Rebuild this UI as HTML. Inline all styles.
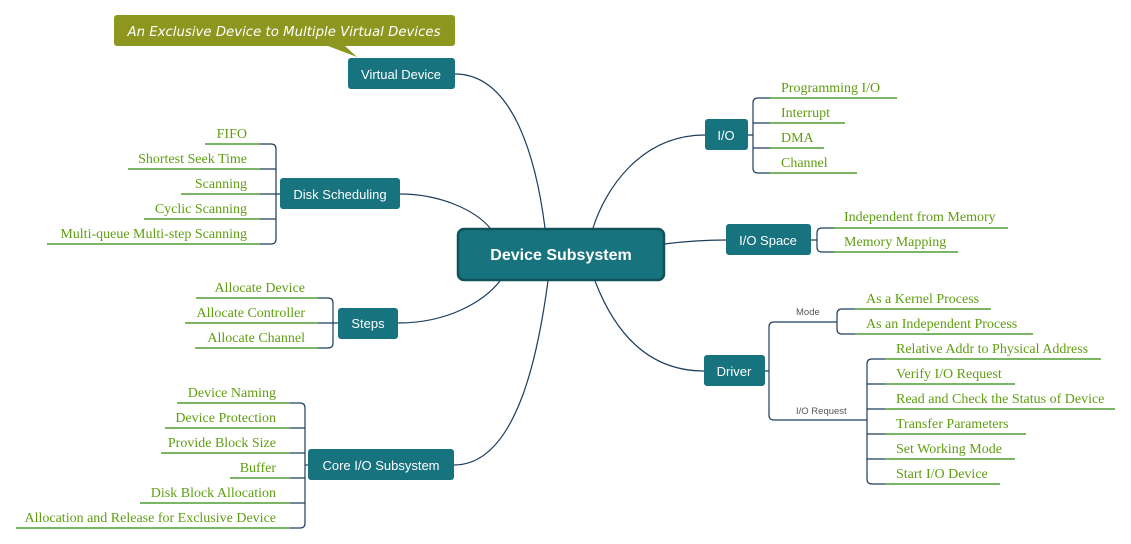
<!DOCTYPE html>
<html><head><meta charset="utf-8"><style>
html,body{margin:0;padding:0;background:#fff;}
svg{display:block}
.n{fill:#17737e}
.nt{font-family:"Liberation Sans",sans-serif;font-size:13px;fill:#fff;text-anchor:middle}
.l{font-family:"Liberation Serif",serif;font-size:14px;fill:#5f9e10}
.c{fill:none;stroke:#1d3d5c;stroke-width:1.2}
.g{stroke:#2a8a0a;stroke-width:1.2}
.s{font-family:"Liberation Sans",sans-serif;font-size:9.5px;fill:#555}
</style></head><body>
<svg width="1131" height="544" viewBox="0 0 1131 544" xmlns="http://www.w3.org/2000/svg">
<path class="c" d="M455,74 C510,74 535,150 545,228"/>
<path class="c" d="M400,194 C440,194 475,210 490,228"/>
<path class="c" d="M398,323 C450,323 485,300 500,281"/>
<path class="c" d="M454,465 C520,465 540,340 548,281"/>
<path class="c" d="M705,135 C640,135 605,190 593,228"/>
<path class="c" d="M726,240 C700,240 680,242 664,244"/>
<path class="c" d="M704,371 C640,371 610,320 595,281"/>

<rect x="114" y="15" width="341" height="31" rx="3" fill="#8d961f"/>
<polygon points="328,46 345,46 357,57" fill="#8d961f"/>
<text x="284" y="36" font-family="'DejaVu Sans',sans-serif" font-style="italic" font-size="13.3" fill="#fff" text-anchor="middle">An Exclusive Device to Multiple Virtual Devices</text>

<rect x="458" y="229" width="206" height="51" rx="6" fill="#17737e" stroke="#0f525a" stroke-width="2.5"/>
<text x="561" y="260" font-family="'Liberation Sans',sans-serif" font-weight="bold" font-size="16" fill="#fff" text-anchor="middle">Device Subsystem</text>

<rect class="n" x="348" y="58" width="107" height="31" rx="3"/><text class="nt" x="401" y="79">Virtual Device</text>
<rect class="n" x="280" y="178" width="120" height="31" rx="3"/><text class="nt" x="340" y="199">Disk Scheduling</text>
<rect class="n" x="338" y="308" width="60" height="31" rx="3"/><text class="nt" x="368" y="328">Steps</text>
<rect class="n" x="308" y="449" width="146" height="31" rx="3"/><text class="nt" x="381" y="470">Core I/O Subsystem</text>
<rect class="n" x="705" y="119" width="43" height="31" rx="3"/><text class="nt" x="726" y="140">I/O</text>
<rect class="n" x="726" y="224" width="85" height="31" rx="3"/><text class="nt" x="768" y="245">I/O Space</text>
<rect class="n" x="704" y="355" width="61" height="31" rx="3"/><text class="nt" x="734" y="376">Driver</text>

<path class="c" d="M280,194 H276 M271,144 Q276,144 276,149 V239 Q276,244 271,244 M276,169 H260 M276,194 H260 M276,219 H260 M271,144 H260 M271,244 H260"/>
<g class="g">
<line x1="205" y1="144" x2="260" y2="144"/><line x1="128" y1="169" x2="260" y2="169"/><line x1="181" y1="194" x2="260" y2="194"/><line x1="144" y1="219" x2="260" y2="219"/><line x1="47" y1="244" x2="260" y2="244"/>
</g>
<g class="l" text-anchor="end">
<text x="247" y="138">FIFO</text><text x="247" y="163">Shortest Seek Time</text><text x="247" y="188">Scanning</text><text x="247" y="213">Cyclic Scanning</text><text x="247" y="238">Multi-queue Multi-step Scanning</text>
</g>

<path class="c" d="M338,323 H333 M328,298 Q333,298 333,303 V343 Q333,348 328,348 M333,323 H318 M328,298 H318 M328,348 H318"/>
<g class="g"><line x1="196" y1="298" x2="318" y2="298"/><line x1="185" y1="323" x2="318" y2="323"/><line x1="195" y1="348" x2="318" y2="348"/></g>
<g class="l" text-anchor="end"><text x="305" y="292">Allocate Device</text><text x="305" y="317">Allocate Controller</text><text x="305" y="342">Allocate Channel</text></g>

<path class="c" d="M308,465 H305 M300,403 Q305,403 305,408 V523 Q305,528 300,528 M305,428 H290 M305,453 H290 M305,478 H290 M305,503 H290 M300,403 H290 M300,528 H290"/>
<g class="g"><line x1="177" y1="403" x2="290" y2="403"/><line x1="165" y1="428" x2="290" y2="428"/><line x1="161" y1="453" x2="290" y2="453"/><line x1="230" y1="478" x2="290" y2="478"/><line x1="140" y1="503" x2="290" y2="503"/><line x1="16" y1="528" x2="290" y2="528"/></g>
<g class="l" text-anchor="end"><text x="276" y="397">Device Naming</text><text x="276" y="422">Device Protection</text><text x="276" y="447">Provide Block Size</text><text x="276" y="472">Buffer</text><text x="276" y="497">Disk Block Allocation</text><text x="276" y="522">Allocation and Release for Exclusive Device</text></g>

<path class="c" d="M748,135 H753 M758,98 Q753,98 753,103 V168 Q753,173 758,173 M753,123 H770 M753,148 H770 M758,98 H770 M758,173 H770"/>
<g class="g"><line x1="770" y1="98" x2="897" y2="98"/><line x1="770" y1="123" x2="845" y2="123"/><line x1="770" y1="148" x2="824" y2="148"/><line x1="770" y1="173" x2="857" y2="173"/></g>
<g class="l"><text x="781" y="92">Programming I/O</text><text x="781" y="117">Interrupt</text><text x="781" y="142">DMA</text><text x="781" y="167">Channel</text></g>

<path class="c" d="M811,240 H817 M822,228 Q817,228 817,233 V247 Q817,252 822,252 M822,228 H834 M822,252 H834"/>
<g class="g"><line x1="834" y1="228" x2="1008" y2="228"/><line x1="834" y1="252" x2="958" y2="252"/></g>
<g class="l"><text x="844" y="221">Independent from Memory</text><text x="844" y="246">Memory Mapping</text></g>

<path class="c" d="M765,371 H769 M774,322 Q769,322 769,327 V415 Q769,420 774,420 M774,322 H837 M774,420 H867"/>
<path class="c" d="M842,309 Q837,309 837,314 V329 Q837,334 842,334 M842,309 H855 M842,334 H855"/>
<path class="c" d="M872,359 Q867,359 867,364 V479 Q867,484 872,484 M867,384 H885 M867,409 H885 M867,434 H885 M867,459 H885 M872,359 H885 M872,484 H885"/>
<text class="s" x="796" y="315">Mode</text>
<text class="s" x="796" y="414">I/O Request</text>
<g class="g"><line x1="855" y1="309" x2="991" y2="309"/><line x1="855" y1="334" x2="1033" y2="334"/>
<line x1="885" y1="359" x2="1101" y2="359"/><line x1="885" y1="384" x2="1015" y2="384"/><line x1="885" y1="409" x2="1115" y2="409"/><line x1="885" y1="434" x2="1026" y2="434"/><line x1="885" y1="459" x2="1015" y2="459"/><line x1="885" y1="484" x2="1000" y2="484"/></g>
<g class="l"><text x="866" y="303">As a Kernel Process</text><text x="866" y="328">As an Independent Process</text>
<text x="896" y="353">Relative Addr to Physical Address</text><text x="896" y="378">Verify I/O Request</text><text x="896" y="403">Read and Check the Status of Device</text><text x="896" y="428">Transfer Parameters</text><text x="896" y="453">Set Working Mode</text><text x="896" y="478">Start I/O Device</text></g>
</svg>
</body></html>
